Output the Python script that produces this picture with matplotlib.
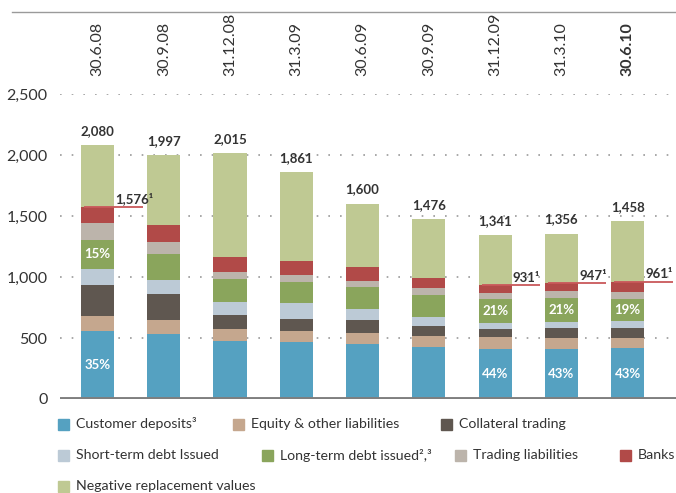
import matplotlib.pyplot as plt
import matplotlib.patches as mpatches
from matplotlib.lines import Line2D

plt.rcParams['font.family'] = ['Lato', 'DejaVu Sans']

# data, CHF billion
dates = ['30.6.08', '30.9.08', '31.12.08', '31.3.09', '30.6.09',
         '30.9.09', '31.12.09', '31.3.10', '30.6.10']
totals = [2080, 1997, 2015, 1861, 1600, 1476, 1341, 1356, 1458]

customer_deposits = [560, 533, 475, 467, 451, 426, 412, 410, 416]
equity_other = [123, 115, 99, 90, 90, 90, 98, 90, 82]
collateral_trading = [254, 213, 115, 99, 107, 82, 66, 82, 82]
short_term_debt = [131, 114, 106, 131, 90, 74, 49, 49, 58]
long_term_debt = [237, 214, 189, 172, 180, 180, 196, 195, 183]
trading_liabilities = [140, 98, 57, 57, 49, 58, 49, 57, 57]
banks = [131, 139, 123, 115, 115, 82, 61, 64, 83]
neg_replacement = [504, 571, 851, 730, 518, 484, 410, 409, 497]

deposit_pct = ['35%', '', '', '', '', '', '44%', '43%', '43%']
ltd_pct = ['15%', '', '', '', '', '', '21%', '21%', '19%']

# totals excluding negative replacement values (footnote 1)
excl_idx = [0, 6, 7, 8]
excl_vals = [1576, 931, 947, 961]

series = [
    ('Customer deposits³', customer_deposits, '#55a1c1'),
    ('Equity & other liabilities', equity_other, '#c5a78e'),
    ('Collateral trading', collateral_trading, '#5f5750'),
    ('Short-term debt Issued', short_term_debt, '#bccad6'),
    ('Long-term debt issued²,³', long_term_debt, '#8aa55c'),
    ('Trading liabilities', trading_liabilities, '#bcb4ab'),
    ('Banks', banks, '#b14a48'),
    ('Negative replacement values', neg_replacement, '#bfc993'),
]

W, H = 676, 493
fig = plt.figure(figsize=(W / 100, H / 100), dpi=100)
ax = fig.add_axes([60 / W, (H - 399) / H, 616 / W, 305 / H])

x = list(range(len(dates)))
bottom = [0] * len(dates)
for name, vals, col in series:
    ax.bar(x, vals, width=0.5, bottom=bottom, color=col, linewidth=0, zorder=2)
    bottom = [b + v for b, v in zip(bottom, vals)]

# percentage labels inside segments
for i in x:
    if deposit_pct[i]:
        ax.text(i, customer_deposits[i] / 2, deposit_pct[i], color='white',
                fontsize=9.5, fontweight='bold', ha='center', va='center', zorder=3)
    if ltd_pct[i]:
        base = (customer_deposits[i] + equity_other[i] + collateral_trading[i]
                + short_term_debt[i])
        ax.text(i, base + long_term_debt[i] / 2, ltd_pct[i], color='white',
                fontsize=9.5, fontweight='bold', ha='center', va='center', zorder=3)

# total labels
for i, t in zip(x, totals):
    ax.annotate(f'{t:,}', (i, t), xytext=(0, 6), textcoords='offset points',
                ha='center', va='bottom', fontsize=9.5, fontweight='bold',
                color='#333333')

# totals excl. replacement values
for i, v in zip(excl_idx, excl_vals):
    ax.plot([i - 0.2, i + 0.68], [v, v], color='#c9585a', lw=1.3, zorder=3,
            solid_capstyle='butt')
    ax.annotate(f'{v:,}¹', (i + 0.27, v), xytext=(0, 1), textcoords='offset points',
                ha='left', va='bottom', fontsize=9.5, fontweight='bold',
                color='#333333', zorder=4)

ax.set_xlim(-0.566, 8.73)
ax.set_ylim(0, 2500)
ax.set_yticks([0, 500, 1000, 1500, 2000, 2500])
ax.set_yticklabels(['0', '500', '1,000', '1,500', '2,000', '2,500'])
ax.tick_params(axis='y', length=0, pad=9, labelsize=11.5, labelcolor='#333333')
ax.set_xticks([])
for s in ax.spines.values():
    s.set_visible(False)
for yv in [500, 1000, 1500, 2000, 2500]:
    ax.axhline(yv, color='#999999', lw=1.2, ls=(0, (1, 6)), zorder=1)
ax.axhline(0, color='#7f7f7f', lw=2.8, zorder=4)

# dates along the top
for i, d in zip(x, dates):
    xf = (60 + (i + 0.566) * 616 / 9.296) / W
    fig.text(xf, (H - 76) / H, d, rotation=90, ha='center', va='bottom',
             fontsize=11.5, color='#333333',
             fontweight='bold' if i == len(dates) - 1 else 'normal')

# header line and unit
fig.add_artist(Line2D([12 / W, 1], [(H - 12) / H] * 2, color='#9a9a9a', lw=1))
fig.text(12 / W, 1 - 3 / H, 'CHF billion', fontsize=11.5, color='#333333',
         va='bottom', ha='left')

# legend
rows = [
    [(58, 0), (233, 1), (441, 2)],
    [(58, 3), (262, 4), (455, 5), (620, 6)],
    [(58, 7)],
]
row_y = [424, 455, 486]
for yy, row in zip(row_y, rows):
    for xx, k in row:
        name, _, col = series[k]
        fig.add_artist(mpatches.Rectangle((xx / W, (H - yy - 5.5) / H), 11 / W, 11 / H,
                                          color=col, transform=fig.transFigure))
        fig.text((xx + 18) / W, (H - yy) / H, name, fontsize=10.2, color='#333333',
                 va='center', ha='left')

fig.savefig('out.png', dpi=100)
